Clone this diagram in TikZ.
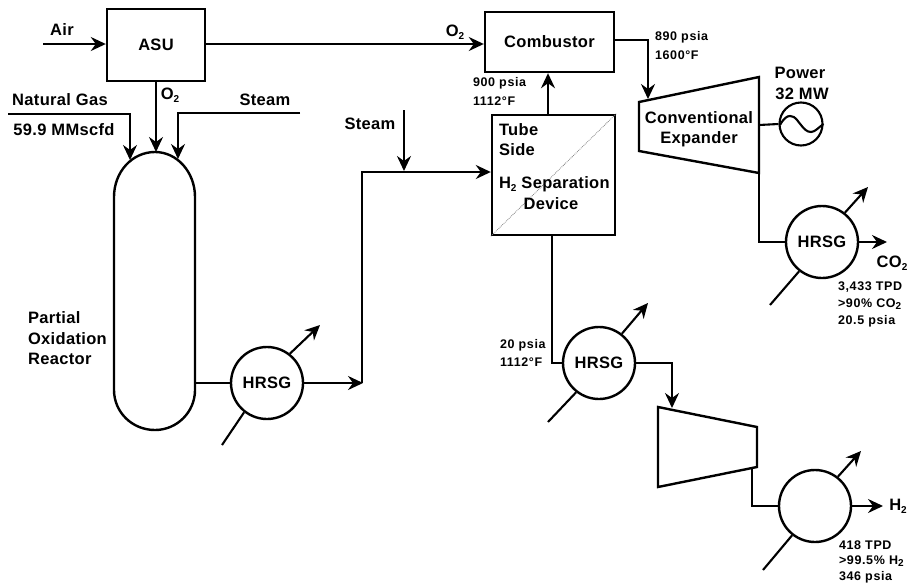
\documentclass[tikz,border=0pt]{standalone}
\usepackage{fontspec}
\setmainfont[Ligatures=TeX]{Liberation Sans}
\newfontfamily\labelfont[LetterSpace=2]{Liberation Sans Bold}
\newfontfamily\smallfont[LetterSpace=5]{Liberation Sans Bold}
\usetikzlibrary{arrows.meta,positioning,calc}
\newcommand{\subtwo}{\raisebox{-0.35ex}{\fontsize{10}{10}\selectfont 2}}

\begin{document}
\begin{tikzpicture}[x=1pt,y=-1pt,>={Stealth[length=15pt,width=14pt,inset=5pt]},line width=2.1pt,
  box/.style={draw,line width=2.4pt,inner sep=0pt,font=\labelfont\fontsize{16.5}{18}\selectfont},
  hrsg/.style={draw,line width=2.4pt,circle,minimum size=72pt,inner sep=0pt,font=\labelfont\fontsize{16.5}{18}\selectfont},
  lab/.style={inner sep=0pt,font=\labelfont\fontsize{16.5}{18}\selectfont},
  tiny lab/.style={inner sep=0pt,font=\smallfont\fontsize{12.5}{14}\selectfont}]
\useasboundingbox (0,0) rectangle (913,584);
\node[box,minimum width=98pt,minimum height=72pt] (asu) at (156,45) {ASU};
\node[box,minimum width=129pt,minimum height=60pt] (comb) at (549.5,42) {Combustor};
\node[box,minimum width=123pt,minimum height=120pt] (sep) at (553.5,175) {};
\node[hrsg] (h1) at (267,383) {HRSG};
\node[hrsg] (h2) at (822,242) {HRSG};
\node[hrsg] (h3) at (599,363) {HRSG};
\node[hrsg] (h4) at (815,506) {};
\node[draw,circle,minimum size=43pt,inner sep=0pt] (gen) at (801,124) {};
% reactor
\coordinate (rtop) at (155,152);
\coordinate (rbot) at (155,430);
\coordinate (rout) at (195,383);
\draw[line width=2.4pt] (114,197) .. controls (114,172) and (132,152) .. (rtop) .. controls (177,152) and (195,172) .. (195,197) -- (195,390) .. controls (195,412) and (177,430) .. (rbot) .. controls (132,430) and (114,412) .. (114,390) -- cycle;
% expander and compressor
\coordinate (e1) at (639,102);
\coordinate (e2) at (759,77);
\coordinate (e3) at (759,173);
\coordinate (e4) at (639,151);
\draw[line width=2.4pt] (e1) -- (e2) -- (e3) -- (e4) -- cycle;
\coordinate (c1) at (658,407);
\coordinate (c2) at (757,427);
\coordinate (c3) at (757,467);
\coordinate (c4) at (658,487);
\draw[line width=2.4pt] (c1) -- (c2) -- (c3) -- (c4) -- cycle;
% membrane
\draw[gray,line width=0.8pt,densely dotted] (sep.south west) -- (sep.north east);
% feeds
\coordinate (air) at (43,44);
\coordinate (ng) at (8,114);
\coordinate (ngin) at (130,160);
\coordinate (stm) at (300,113);
\coordinate (stmin) at (178,159);
\coordinate (stmtwo) at (404,110);
\coordinate (stmtwoin) at (404,171);
\draw[->] (air) -- (asu.west |- air);
\draw[->] (asu.east |- 0,44) -- (comb.west |- 0,44);
\draw[->] (asu.south) -- (asu.south |- rtop);
\draw[->] (ng) -- (ngin |- ng) -- (ngin);
\draw[->] (stm) -- (stmin |- stm) -- (stmin);
\draw[->] (stmtwo) -- (stmtwoin);
% main line
\draw (rout) -- (h1.west);
\draw[->] (h1.east) -- (363,383);
\draw[->] (362,383) -- (362,172) -- (sep.west |- 0,172);
\draw[->] (sep.north -| 548,0) -- (comb.south -| 548,0);
\draw[->] (comb.east |- 0,40) -- (648,40) -- (648,99);
\draw (759,125) -- (gen.west);
\draw (780,125) .. controls (784,118) and (787,116) .. (790,116) .. controls (796,116) and (798,122) .. (801,125) .. controls (804,129) and (807,132) .. (811,132) .. controls (815,132) and (819,127) .. (gen.east);
\draw (e3) -- (759,242) -- (h2.west);
\draw[->] (h2.east) -- (887,242);
\draw (sep.south -| 552,0) -- (552,363) -- (h3.west);
\draw[->] (h3.east) -- (672,363) -- (672,408);
\draw (752,468) -- (752,506) -- (h4.west);
\draw[->] (h4.east) -- (883,506);
% hrsg utility lines
\coordinate (u1a) at (320,325);
\coordinate (l1a) at (222,445);
\coordinate (u2a) at (868,187);
\coordinate (l2a) at (770,305);
\coordinate (u3a) at (648,303);
\coordinate (l3a) at (548,422);
\coordinate (u4a) at (861,451);
\coordinate (l4a) at (763,570);
\draw[->] (h1.52) -- (u1a);
\draw (h1.232) -- (l1a);
\draw[->] (h2.52) -- (u2a);
\draw (h2.232) -- (l2a);
\draw[->] (h3.52) -- (u3a);
\draw (h3.232) -- (l3a);
\draw[->] (h4.52) -- (u4a);
\draw (h4.232) -- (l4a);
% labels
\node[lab] (lair) at (62,30) {Air};
\node[lab] (lo2a) at (455,32) {O\subtwo};
\node[lab] (lo2b) at (170,95) {O\subtwo};
\node[lab] (lng) at (60,100) {Natural Gas};
\node[lab] (lflow) at (64,130) {59.9 MMscfd};
\node[lab] (lstm) at (265,100) {Steam};
\node[lab] (lstmtwo) at (370,124) {Steam};
\node[lab,anchor=west] (lpox1) at (27,318) {Partial};
\node[lab,anchor=west] (lpox2) at (27,339) {Oxidation};
\node[lab,anchor=west] (lpox3) at (27,359) {Reactor};
\node[lab,anchor=west] (ltube) at (498,130) {Tube};
\node[lab,anchor=west] (lside) at (498,150) {Side};
\node[lab,anchor=west] (lsep) at (498,184) {H\subtwo{} Separation};
\node[lab] (ldev) at (551,204) {Device};
\node[lab] (lconv) at (699,118) {Conventional};
\node[lab] (lexp) at (699,139) {Expander};
\node[lab] (lpow) at (800,73) {Power};
\node[lab] (lmw) at (802,94) {32 MW};
\node[lab] (lco2) at (892,263) {CO\subtwo};
\node[lab] (lh2) at (898,506) {H\subtwo};
\node[tiny lab,anchor=west] (p1) at (654,37) {890 psia};
\node[tiny lab,anchor=west] (p2) at (654,55) {1600°F};
\node[tiny lab,anchor=west] (p3) at (472,83) {900 psia};
\node[tiny lab,anchor=west] (p4) at (472,101) {1112°F};
\node[tiny lab,anchor=west] (p5) at (499,345) {20 psia};
\node[tiny lab,anchor=west] (p6) at (499,362) {1112°F};
\node[tiny lab,anchor=west] (p7) at (837,287) {3,433 TPD};
\node[tiny lab,anchor=west] (p8) at (837,304) {>90\% CO\subtwo};
\node[tiny lab,anchor=west] (p9) at (837,321) {20.5 psia};
\node[tiny lab,anchor=west] (p10) at (838,545) {418 TPD};
\node[tiny lab,anchor=west] (p11) at (838,561) {>99.5\% H\subtwo};
\node[tiny lab,anchor=west] (p12) at (838,577) {346 psia};
\end{tikzpicture}
\end{document}
